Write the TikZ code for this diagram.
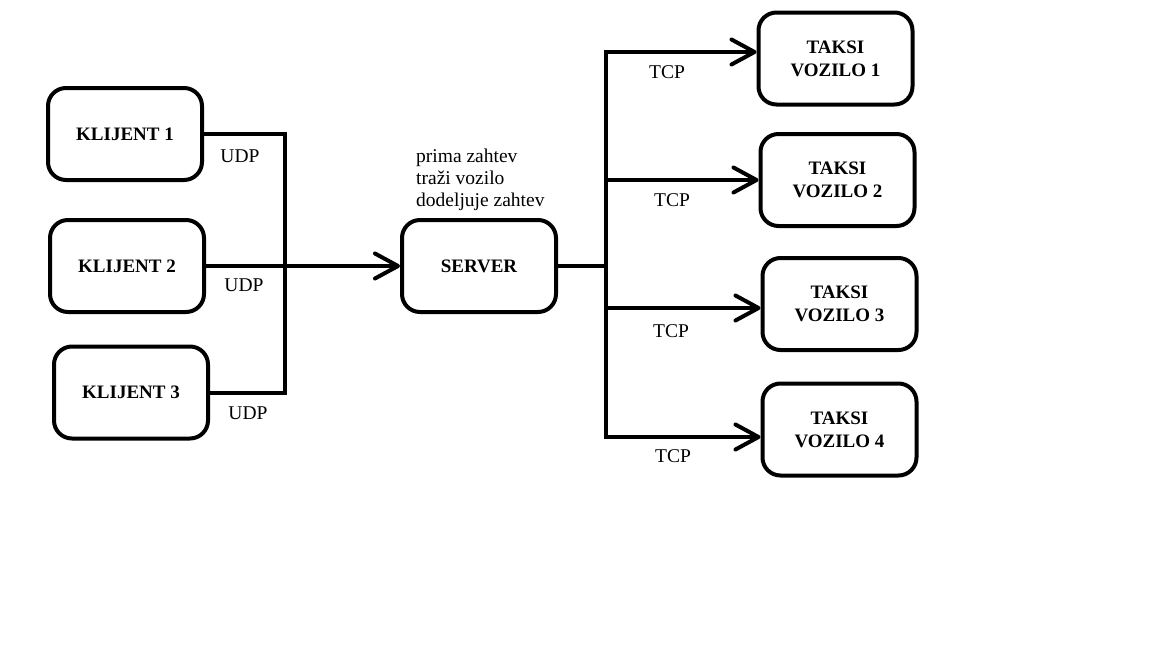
\documentclass[tikz,border=0pt]{standalone}
\usepackage{fontspec}
\setmainfont{Liberation Serif}
\usetikzlibrary{arrows.meta}
\begin{document}
\begin{tikzpicture}[x=1pt,y=-1pt,
  box/.style={draw, line width=4pt, rounded corners=18pt, minimum width=154pt, minimum height=92pt, inner sep=0pt, align=center, font=\fontsize{19}{23}\selectfont\bfseries},
  conn/.style={line width=4pt},
  arr/.style={conn, -{Straight Barb[length=23pt,width=25pt,round]}},
  lbl/.style={inner sep=0pt, font=\fontsize{19.5}{22}\selectfont}]
\useasboundingbox[fill=white] (0,0) rectangle (1152,648);
\node[box] (k1) at (125,134) {KLIJENT 1};
\node[box] (k2) at (127,266) {KLIJENT 2};
\node[box] (k3) at (131,392.5) {KLIJENT 3};
\node[box] (srv) at (479,266) {SERVER};
\node[box] (t1) at (835.5,58.5) {TAKSI\\VOZILO 1};
\node[box] (t2) at (837.5,180) {TAKSI\\VOZILO 2};
\node[box] (t3) at (839.5,304) {TAKSI\\VOZILO 3};
\node[box] (t4) at (839.5,429.5) {TAKSI\\VOZILO 4};
\coordinate (bl) at (285,266);
\coordinate (br) at (606,266);
\draw[conn] (k1.east) -| (bl) |- (k3.east);
\draw[arr] (k2.east) -- (srv.west);
\draw[conn] (srv.east) -- (br);
\draw[arr] (br) |- ([yshift=6.5pt]t1.west);
\draw[arr] (br) |- (t2.west);
\draw[arr] (br) |- ([yshift=-4pt]t3.west);
\draw[arr] (br) |- ([yshift=-7.5pt]t4.west);
\node[lbl] (u1) at (240,156) {UDP};
\node[lbl] (u2) at (244,285) {UDP};
\node[lbl] (u3) at (248,413) {UDP};
\node[lbl] (c1) at (667,72) {TCP};
\node[lbl] (c2) at (672,200) {TCP};
\node[lbl] (c3) at (671,331) {TCP};
\node[lbl] (c4) at (673,456) {TCP};
\node[lbl, anchor=west, align=left] (note) at (416,180) {prima zahtev\\traži vozilo\\dodeljuje zahtev};
\end{tikzpicture}
\end{document}
